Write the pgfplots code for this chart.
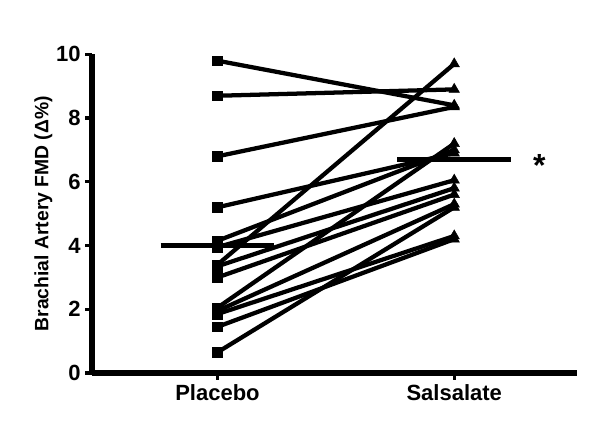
\documentclass[border=0pt]{standalone}
\usepackage{fontspec}
\setmainfont{Liberation Sans}
\usepackage{pgfplots}
\usepackage{pgfplotstable}
\pgfplotsset{compat=1.18}
\pgfplotstableread{
p s
9.8 8.4
8.7 8.9
6.8 8.35
5.2 6.9
4.15 7.0
3.95 6.05
3.4 9.7
3.35 5.8
3.0 5.6
2.05 7.2
1.95 5.3
1.85 4.3
1.45 4.2
0.65 5.2
}\data
\begin{document}
\begin{tikzpicture}
\begin{axis}[
  at={(0,0)}, anchor=south west,
  scale only axis, width=364pt, height=239pt,
  xmin=0.47, xmax=2.52, ymin=0, ymax=10,
  axis lines=left, axis line style={line width=3.8pt, -},
  xtick={1,2}, xticklabels={Placebo,Salsalate},
  ytick={0,2,4,6,8,10},
  tick style={line width=2.5pt, black},
  tick align=outside, major tick length=5pt,
  /pgf/number format/assume math mode=true,
  ticklabel style={font=\fontsize{16.5}{18}\selectfont\bfseries},
  ylabel={Brachial Artery FMD (Δ\%)},
  ylabel style={font=\fontsize{14.5}{16}\selectfont\bfseries, yshift=-4pt},
  xticklabel style={yshift=0pt},
  clip=false,
]
\addplot[black, line width=3.2pt] coordinates {(1,9.8) (2,8.4)};
\addplot[black, line width=3.2pt] coordinates {(1,8.7) (2,8.9)};
\addplot[black, line width=3.2pt] coordinates {(1,6.8) (2,8.35)};
\addplot[black, line width=3.2pt] coordinates {(1,5.2) (2,6.9)};
\addplot[black, line width=3.2pt] coordinates {(1,4.15) (2,7.0)};
\addplot[black, line width=3.2pt] coordinates {(1,3.95) (2,6.05)};
\addplot[black, line width=3.2pt] coordinates {(1,3.4) (2,9.7)};
\addplot[black, line width=3.2pt] coordinates {(1,3.35) (2,5.8)};
\addplot[black, line width=3.2pt] coordinates {(1,3.0) (2,5.6)};
\addplot[black, line width=3.2pt] coordinates {(1,2.05) (2,7.2)};
\addplot[black, line width=3.2pt] coordinates {(1,1.95) (2,5.3)};
\addplot[black, line width=3.2pt] coordinates {(1,1.85) (2,4.3)};
\addplot[black, line width=3.2pt] coordinates {(1,1.45) (2,4.2)};
\addplot[black, line width=3.2pt] coordinates {(1,0.65) (2,5.2)};
\addplot[only marks, mark=square*, mark size=3.6pt, black] table[x expr=1, y=p] {\data};
\addplot[only marks, mark=triangle*, mark size=4.5pt, black] table[x expr=2, y=s] {\data};
\addplot[black, line width=4.2pt] coordinates {(0.76,4.0) (1.24,4.0)};
\addplot[black, line width=4.2pt] coordinates {(1.76,6.7) (2.24,6.7)};
\node[font=\fontsize{24}{24}\selectfont\bfseries] at (axis cs:2.36,6.5) {*};
\end{axis}
\pgfresetboundingbox
\path (-69pt,-39.75pt) rectangle ++(450pt,319.5pt);
\end{tikzpicture}
\end{document}
